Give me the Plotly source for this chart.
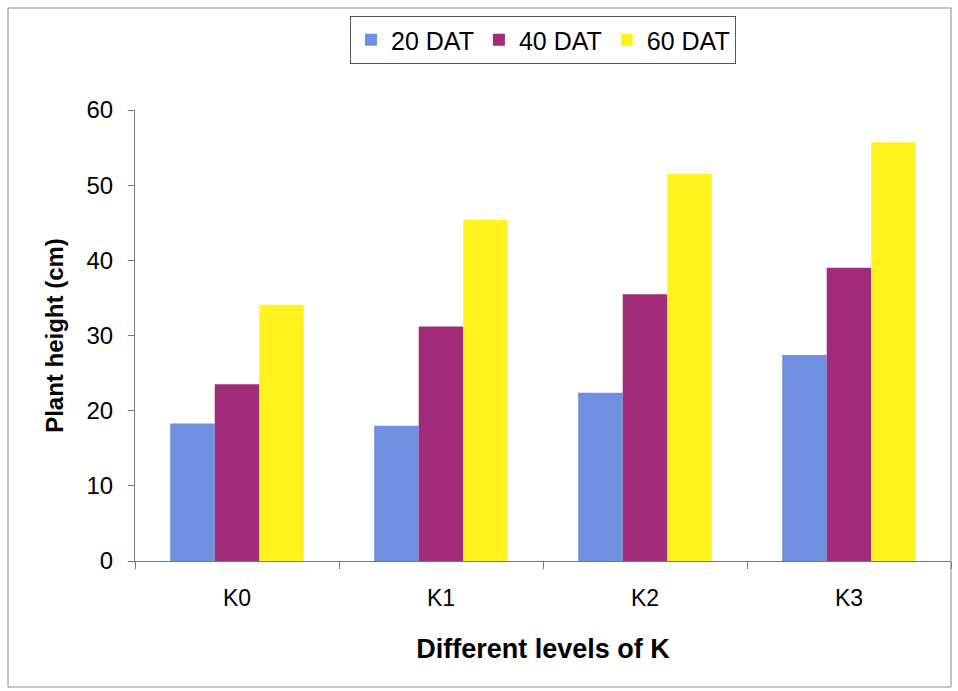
import plotly.graph_objects as go

categories = ["K0", "K1", "K2", "K3"]
series_names = ["20 DAT", "40 DAT", "60 DAT"]
dat20 = [18.3, 18.0, 22.4, 27.4]
dat40 = [23.5, 31.2, 35.5, 39.0]
dat60 = [34.1, 45.4, 51.5, 55.7]
colors = ["#6f8fe0", "#a02b78", "#fff21e"]
y_ticks = [0, 10, 20, 30, 40, 50, 60]

fig = go.Figure()
for name, vals, col in zip(series_names, [dat20, dat40, dat60], colors):
    fig.add_trace(go.Bar(x=categories, y=vals, name=name, marker=dict(color=col, line=dict(width=0))))

W, H = 958, 691
ml, mr, mt, mb = 135, 7, 110, 130
pw, ph = W - ml - mr, H - mt - mb

def px_to_paper_x(px):
    return (px - ml) / pw

def px_to_paper_y(py):
    return (H - mb - py) / ph

fig.update_layout(
    width=W, height=H,
    margin=dict(l=ml, r=mr, t=mt, b=mb),
    paper_bgcolor="white", plot_bgcolor="white",
    barmode="group", bargap=0.345, bargroupgap=0,
    font=dict(family="Liberation Sans, Arial, sans-serif", color="black", size=24),
    showlegend=True,
    legend=dict(orientation="h", x=0.5, xanchor="center", y=px_to_paper_y(16), yanchor="top",
                bordercolor="#555555", borderwidth=1, bgcolor="white",
                font=dict(size=25), itemwidth=30, traceorder="normal", tracegroupgap=0),
    xaxis=dict(showline=True, linecolor="#777777", linewidth=1, ticks="outside", tickson="boundaries",
               ticklen=7, tickcolor="#777777", tickfont=dict(size=23), ticklabelstandoff=16,
               title=dict(text="<b>Different levels of K</b>", font=dict(size=27), standoff=29)),
    yaxis=dict(range=[0, 60], tickvals=y_ticks, showline=True, linecolor="#777777", linewidth=1,
               ticks="outside", ticklen=6, tickcolor="#777777", showgrid=False, zeroline=False,
               tickfont=dict(size=24), ticklabelstandoff=10,
               title=dict(text="<b>Plant height (cm)</b>", font=dict(size=24), standoff=16)),
    shapes=[dict(type="rect", xref="paper", yref="paper",
                 x0=px_to_paper_x(8), x1=px_to_paper_x(951),
                 y0=px_to_paper_y(687), y1=px_to_paper_y(8),
                 line=dict(color="#888888", width=1), layer="below")],
)

fig.write_html("out.html")
